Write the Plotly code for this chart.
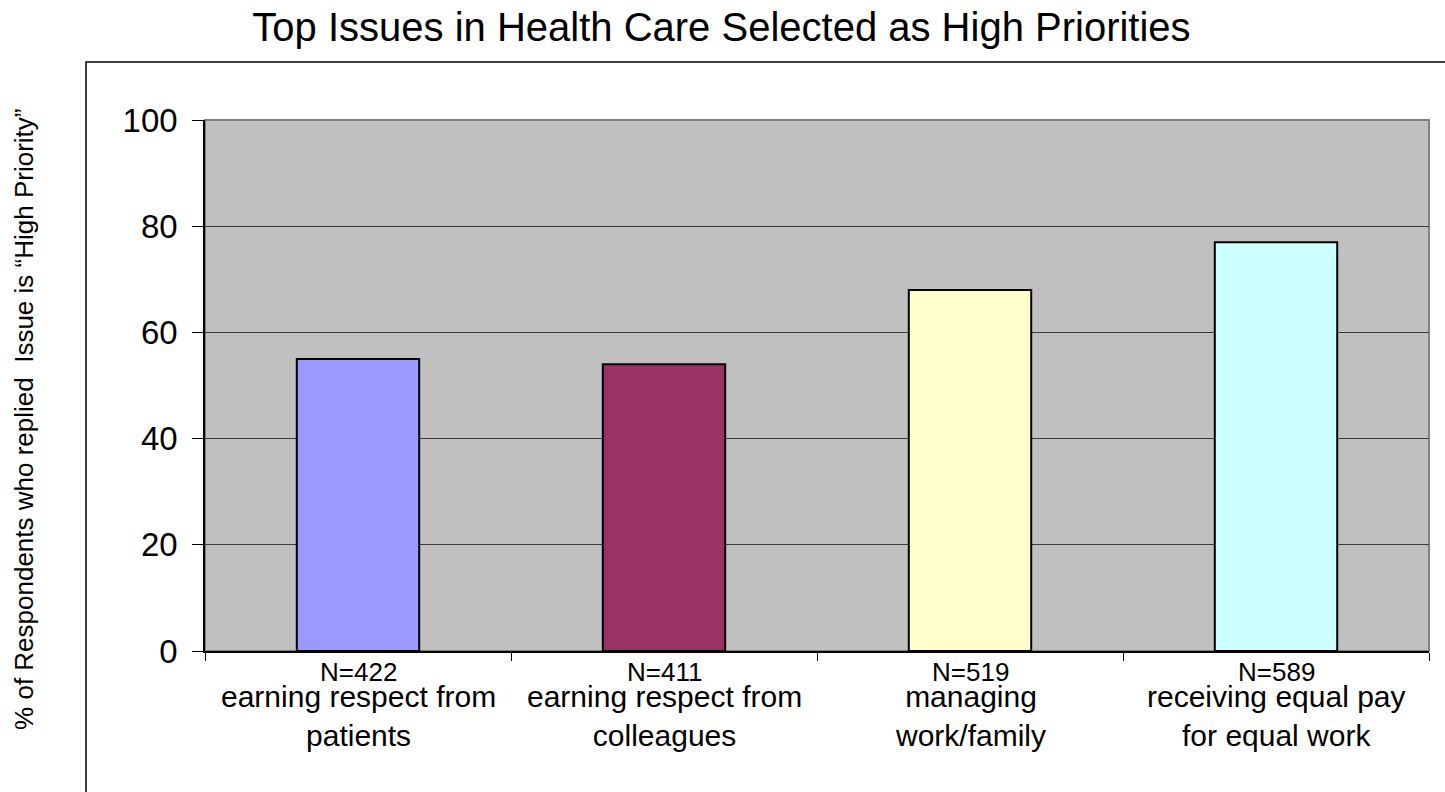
import plotly.graph_objects as go

# Survey results: share of respondents rating each issue "High Priority"
issues = [
    "earning respect from<br>patients",
    "earning respect from<br>colleagues",
    "managing<br>work/family",
    "receiving equal pay<br>for equal work",
]
sample_sizes = ["N=422", "N=411", "N=519", "N=589"]
pct_high_priority = [55, 54, 68, 77]
bar_colors = ["#9999FF", "#993366", "#FFFFCC", "#CCFFFF"]

y_ticks = [0, 20, 40, 60, 80, 100]
positions = list(range(len(issues)))

FONT = "Arial, Liberation Sans, sans-serif"

fig = go.Figure()
fig.add_trace(go.Bar(
    x=positions,
    y=pct_high_priority,
    width=0.4,
    marker=dict(color=bar_colors, line=dict(color="black", width=2)),
    hoverinfo="skip",
))

annotations = []
for pos, n_label, issue in zip(positions, sample_sizes, issues):
    annotations.append(dict(
        x=pos, y=0, xref="x", yref="y", text=n_label, showarrow=False,
        yanchor="top", yshift=-4, font=dict(family=FONT, size=26, color="black"),
    ))
    annotations.append(dict(
        x=pos, y=0, xref="x", yref="y", text=issue, showarrow=False,
        yanchor="top", yshift=-27, font=dict(family=FONT, size=30, color="black"),
    ))

annotations.append(dict(
    x=-0.1479, y=0.437, xref="paper", yref="paper",
    text="% of Respondents who replied\u00a0 Issue is \u201cHigh Priority\u201d",
    textangle=-90, showarrow=False, xanchor="center", yanchor="middle",
    font=dict(family=FONT, size=26, color="black"),
))

fig.update_layout(
    width=1445, height=792,
    margin=dict(l=205, r=16, t=120, b=141),
    paper_bgcolor="white",
    plot_bgcolor="#C0C0C0",
    showlegend=False,
    title=dict(
        text="Top Issues in Health Care Selected as High Priorities",
        x=0.4993, xref="container", xanchor="center",
        y=0.966, yref="container", yanchor="middle",
        font=dict(family=FONT, size=40, color="black"),
    ),
    xaxis=dict(
        range=[-0.5, 3.5],
        tickvals=[-0.5, 0.5, 1.5, 2.5, 3.5],
        showticklabels=False,
        ticks="outside", ticklen=8, tickcolor="black", tickwidth=1,
        showgrid=False, zeroline=False,
        showline=True, linecolor="black", linewidth=1.5,
    ),
    yaxis=dict(
        range=[0, 100],
        tickvals=y_ticks,
        ticks="outside", ticklen=11, tickcolor="black", tickwidth=1,
        tickfont=dict(family=FONT, size=33, color="black"),
        ticklabelstandoff=8,
        showgrid=True, gridcolor="#3a3a3a", gridwidth=1,
        zeroline=False,
        showline=True, linecolor="black", linewidth=1.5,
    ),
    annotations=annotations,
    shapes=[
        # gray border around the plotting area (top and right edges show)
        dict(type="rect", xref="paper", yref="paper", x0=0, y0=0, x1=1, y1=1,
             line=dict(color="#808080", width=2), layer="below"),
        # outer chart frame
        dict(type="rect", xref="paper", yref="paper",
             x0=-0.0972, y0=-0.6, x1=1.2, y1=1.109,
             line=dict(color="black", width=1.5), layer="below"),
    ],
)

fig.write_html("out.html")
